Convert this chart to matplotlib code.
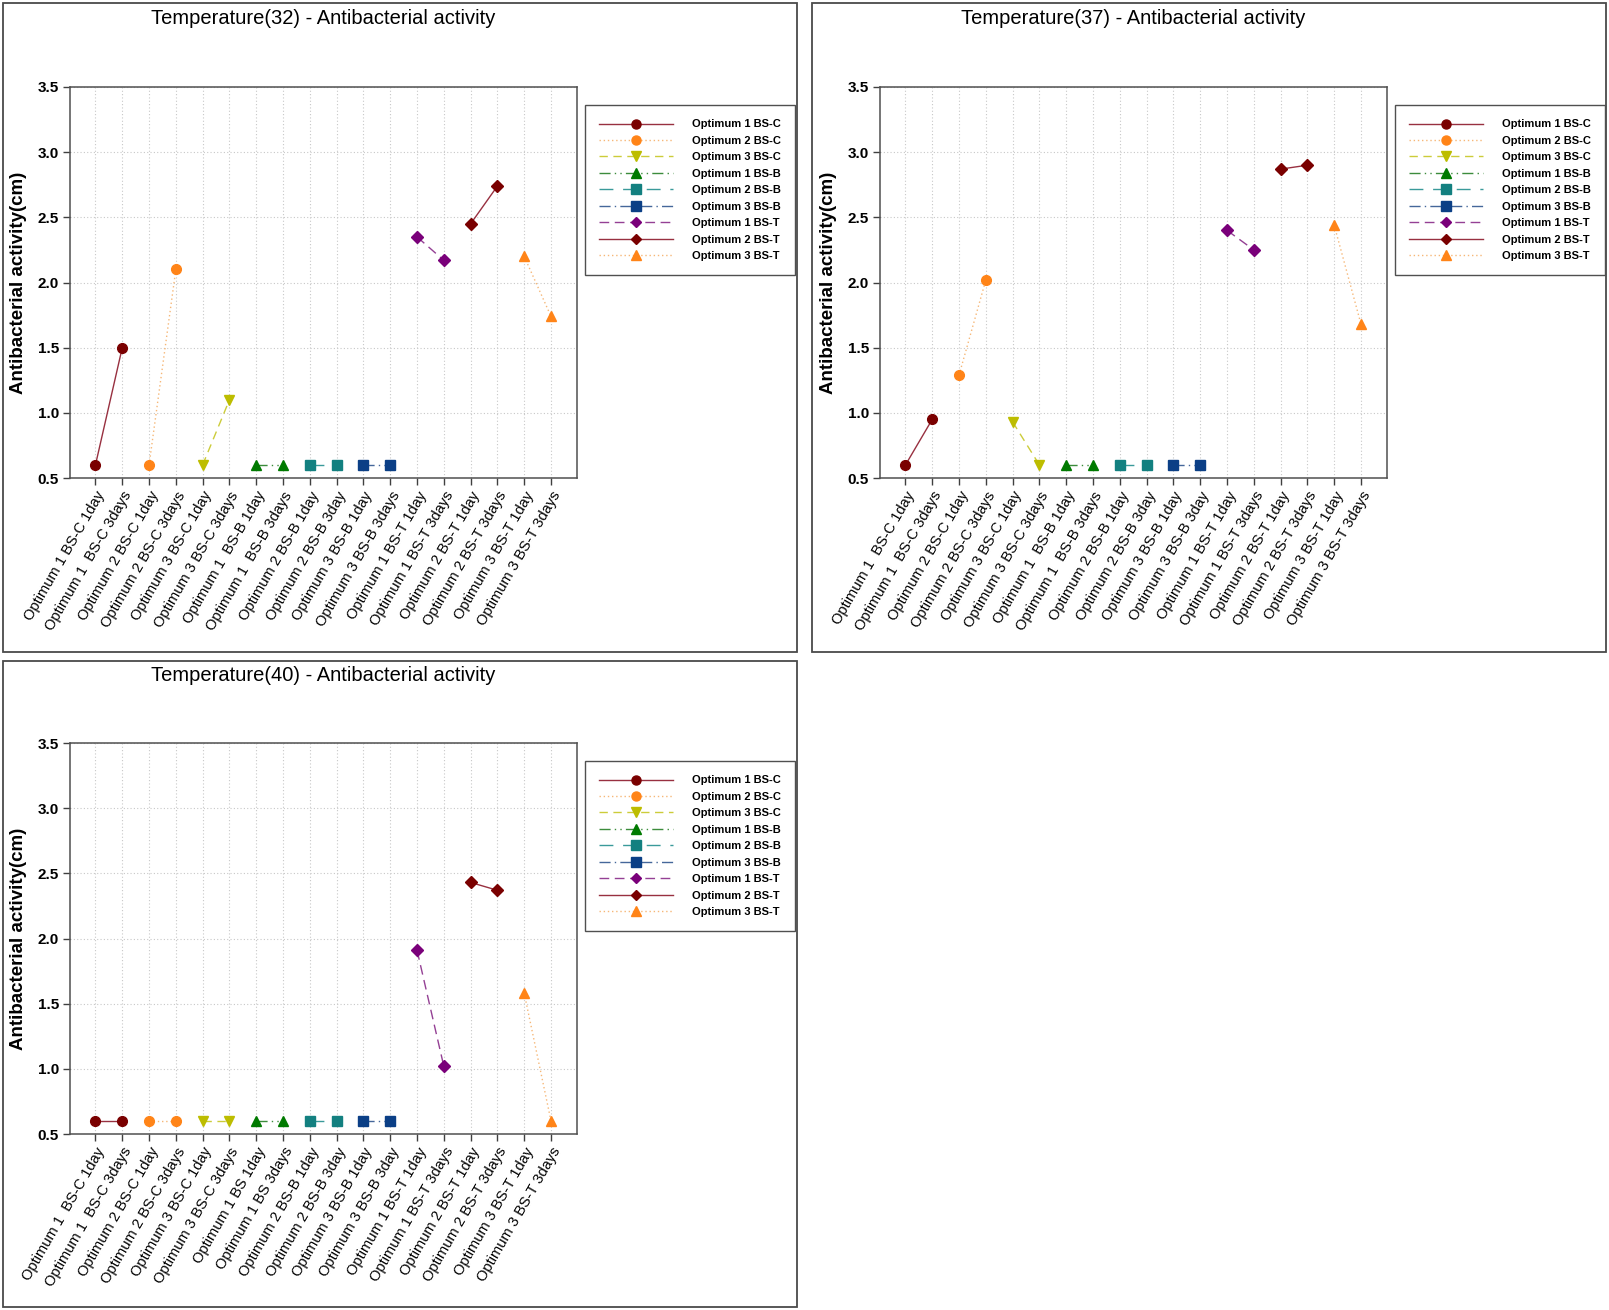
import matplotlib
matplotlib.use("Agg")
import matplotlib.pyplot as plt
from matplotlib import font_manager
from matplotlib.patches import Rectangle

# series names, in legend order
series = ['Optimum 1 BS-C', 'Optimum 2 BS-C', 'Optimum 3 BS-C',
          'Optimum 1 BS-B', 'Optimum 2 BS-B', 'Optimum 3 BS-B',
          'Optimum 1 BS-T', 'Optimum 2 BS-T', 'Optimum 3 BS-T']

# values: two points (1day, 3days) per series, in series order
t32_values = [0.6, 1.5, 0.6, 2.1, 0.6, 1.1, 0.6, 0.6, 0.6, 0.6, 0.6, 0.6,
              2.35, 2.17, 2.45, 2.74, 2.2, 1.74]
t37_values = [0.6, 0.95, 1.29, 2.02, 0.93, 0.6, 0.6, 0.6, 0.6, 0.6, 0.6, 0.6,
              2.4, 2.25, 2.87, 2.9, 2.44, 1.68]
t40_values = [0.6, 0.6, 0.6, 0.6, 0.6, 0.6, 0.6, 0.6, 0.6, 0.6, 0.6, 0.6,
              1.91, 1.02, 2.43, 2.37, 1.58, 0.6]

t32_labels = ['Optimum 1 BS-C 1day', 'Optimum 1  BS-C 3days', 'Optimum 2 BS-C 1day',
              'Optimum 2 BS-C 3days', 'Optimum 3 BS-C 1day', 'Optimum 3 BS-C 3days',
              'Optimum 1  BS-B 1day', 'Optimum 1  BS-B 3days', 'Optimum 2 BS-B 1day',
              'Optimum 2 BS-B 3day', 'Optimum 3 BS-B 1day', 'Optimum 3 BS-B 3days',
              'Optimum 1 BS-T 1day', 'Optimum 1 BS-T 3days', 'Optimum 2 BS-T 1day',
              'Optimum 2 BS-T 3days', 'Optimum 3 BS-T 1day', 'Optimum 3 BS-T 3days']
t37_labels = ['Optimum 1  BS-C 1day', 'Optimum 1  BS-C 3days', 'Optimum 2 BS-C 1day',
              'Optimum 2 BS-C 3days', 'Optimum 3 BS-C 1day', 'Optimum 3 BS-C 3days',
              'Optimum 1  BS-B 1day', 'Optimum 1  BS-B 3days', 'Optimum 2 BS-B 1day',
              'Optimum 2 BS-B 3day', 'Optimum 3 BS-B 1day', 'Optimum 3 BS-B 3day',
              'Optimum 1 BS-T 1day', 'Optimum 1 BS-T 3days', 'Optimum 2 BS-T 1day',
              'Optimum 2 BS-T 3days', 'Optimum 3 BS-T 1day', 'Optimum 3 BS-T 3days']
t40_labels = ['Optimum 1  BS-C 1day', 'Optimum 1  BS-C 3days', 'Optimum 2 BS-C 1day',
              'Optimum 2 BS-C 3days', 'Optimum 3 BS-C 1day', 'Optimum 3 BS-C 3days',
              'Optimum 1 BS 1day', 'Optimum 1 BS 3days', 'Optimum 2 BS-B 1day',
              'Optimum 2 BS-B 3day', 'Optimum 3 BS-B 1day', 'Optimum 3 BS-B 3day',
              'Optimum 1 BS-T 1day', 'Optimum 1 BS-T 3days', 'Optimum 2 BS-T 1day',
              'Optimum 2 BS-T 3days', 'Optimum 3 BS-T 1day', 'Optimum 3 BS-T 3days']

# styles: (marker colour, line colour, linestyle, marker, markersize)
styles = [
    ('#7a0000', '#983040', '-', 'o', 7),
    ('#ff8418', '#f6b777', (0, (1, 2)), 'o', 7),
    ('#bdbd00', '#cccc3a', (0, (6, 4)), 'v', 7.5),
    ('#007a00', '#3c8c3c', (0, (8, 3, 1, 3, 1, 3)), '^', 7.5),
    ('#138080', '#3a9a9a', (0, (10, 7)), 's', 7),
    ('#0b3f86', '#45679a', (0, (8, 3, 1, 3)), 's', 7),
    ('#7a007a', '#944094', (0, (7, 4)), 'D', 6),
    ('#7a0000', '#983040', '-', 'D', 6),
    ('#ff8418', '#f6b777', (0, (1, 2)), '^', 7.5),
]

names = {f.name for f in font_manager.fontManager.ttflist}
narrow = 'Liberation Sans Narrow' if 'Liberation Sans Narrow' in names else 'Liberation Sans'
plt.rcParams['font.family'] = ['Liberation Sans', 'DejaVu Sans']

W, H = 1609, 1310
fig = plt.figure(figsize=(W / 100, H / 100), dpi=100)


def fx(px):
    return px / W


def fy(py):
    return 1 - py / H


panels = [
    ('Temperature(32) - Antibacterial activity', t32_values, t32_labels, (3, 3, 797, 652), 70, 87, (585, 105)),
    ('Temperature(37) - Antibacterial activity', t37_values, t37_labels, (812, 3, 1606, 652), 880, 87, (1395, 105)),
    ('Temperature(40) - Antibacterial activity', t40_values, t40_labels, (3, 661, 797, 1307), 70, 743, (585, 761)),
]

for title, vals, labels, box, ax_left, ax_top, leg_pos in panels:
    # panel frame
    x0, y0, x1, y1 = box
    fig.patches.append(Rectangle((fx(x0), fy(y1)), fx(x1 - x0), (y1 - y0) / H,
                                 transform=fig.transFigure, fill=False,
                                 edgecolor='#4a4a4a', linewidth=1.3))
    ax = fig.add_axes([fx(ax_left), fy(ax_top + 391), fx(507), 391 / H])
    handles = []
    for i, name in enumerate(series):
        mc, lc, ls, mk, ms = styles[i]
        xs = [2 * i + 1, 2 * i + 2]
        ys = vals[2 * i:2 * i + 2]
        ax.plot(xs, ys, color=lc, linestyle=ls, linewidth=1.0, zorder=2)
        ax.plot(xs, ys, linestyle='none', marker=mk, markersize=ms,
                markerfacecolor=mc, markeredgecolor=mc, zorder=3)
        h, = ax.plot([], [], color=lc, linestyle=ls, linewidth=1.0, marker=mk,
                     markersize=ms - 0.5, markerfacecolor=mc, markeredgecolor=mc)
        handles.append(h)

    ax.set_xlim(0.05, 18.97)
    ax.set_ylim(0.5, 3.5)
    ax.set_xticks(range(1, 19))
    ax.set_xticklabels(labels, rotation=60, ha='right', rotation_mode='anchor',
                       fontsize=10.5)
    ax.set_yticks([0.5, 1.0, 1.5, 2.0, 2.5, 3.0, 3.5])
    ax.set_yticklabels(['%.1f' % v for v in ax.get_yticks()], fontsize=11,
                       fontweight='bold')
    ax.tick_params(direction='out', length=5, width=1, color='#404040', pad=3)
    ax.grid(True, linestyle=(0, (1, 2)), color='#c8c8c8', linewidth=0.8)
    ax.set_axisbelow(True)
    for sp in ax.spines.values():
        sp.set_color('#505050')
        sp.set_linewidth(1.1)
    ax.set_ylabel('Antibacterial activity(cm)', fontsize=13.5, fontweight='bold')
    ax.yaxis.set_label_coords(-0.084, 0.5)

    # title, centred over the plot area
    fig.text(fx(ax_left + 253), fy(y0 + 15), title, ha='center', va='center',
             fontsize=14.5, family=[narrow, 'DejaVu Sans'])

    leg = fig.legend(handles, series, loc='upper left',
                     bbox_to_anchor=(fx(leg_pos[0]), fy(leg_pos[1])),
                     bbox_transform=fig.transFigure, borderaxespad=0,
                     prop={'size': 8, 'weight': 'bold'}, handlelength=6.6,
                     handletextpad=1.7, labelspacing=0.58, borderpad=1.3,
                     fancybox=False, framealpha=1, edgecolor='#505050')
    leg.get_frame().set_linewidth(1.0)

fig.savefig('out.png', dpi=100)
